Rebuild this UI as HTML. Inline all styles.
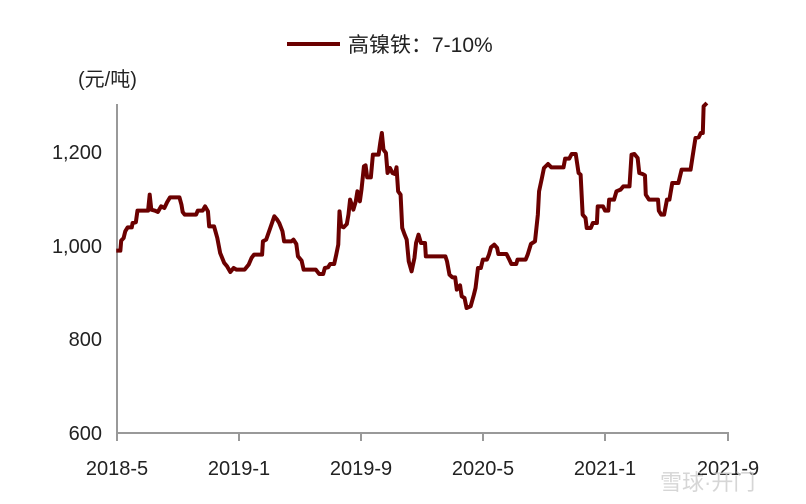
<!DOCTYPE html>
<html><head><meta charset="utf-8"><style>
body{margin:0;background:#fff;}
svg{display:block;font-family:"Liberation Sans","Noto Sans CJK SC",sans-serif;}
</style></head><body>
<svg width="806" height="504" viewBox="0 0 806 504">
<line x1="287" y1="44" x2="340" y2="44" stroke="#6b0000" stroke-width="4"/>
<text x="348" y="52" font-size="21" fill="#222">高镍铁：7-10%</text>
<text x="78" y="86" font-size="20" fill="#222">(元/吨)</text>
<g font-size="20" fill="#222" text-anchor="end">
<text x="102" y="159">1,200</text>
<text x="102" y="253">1,000</text>
<text x="102" y="346">800</text>
<text x="102" y="440">600</text>
</g>
<line x1="117" y1="104" x2="117" y2="433" stroke="#999" stroke-width="2"/>
<line x1="116" y1="433" x2="729" y2="433" stroke="#999" stroke-width="2"/>
<g stroke="#999" stroke-width="2">
<line x1="117" y1="433" x2="117" y2="441"/><line x1="239" y1="433" x2="239" y2="441"/>
<line x1="361" y1="433" x2="361" y2="441"/><line x1="483" y1="433" x2="483" y2="441"/>
<line x1="605" y1="433" x2="605" y2="441"/><line x1="728" y1="433" x2="728" y2="441"/>
</g>
<g font-size="20" fill="#222" text-anchor="middle">
<text x="117" y="475">2018-5</text><text x="239" y="475">2019-1</text>
<text x="361" y="475">2019-9</text><text x="483" y="475">2020-5</text>
<text x="605" y="475">2021-1</text><text x="728" y="475">2021-9</text>
</g>
<g transform="translate(100 88) scale(0.4073 0.3333)">
<polyline fill="none" stroke="#6b0000" stroke-width="4" vector-effect="non-scaling-stroke" stroke-linejoin="round" points="40,488 50,488 52,458 58,450 62,430 68,418 78,418 80,405 88,403 92,368 118,368 122,320 126,365 135,368 142,372 150,355 158,360 165,342 172,328 195,328 200,350 203,372 208,380 236,380 240,368 252,368 258,355 265,370 268,415 280,415 288,450 295,495 305,525 312,535 320,552 328,540 335,545 355,545 365,530 372,510 378,500 398,500 400,460 408,455 418,420 428,385 435,395 440,405 448,430 452,460 470,460 475,455 482,468 486,505 495,518 500,545 530,545 538,558 548,558 552,540 560,538 565,528 575,528 580,500 585,470 588,370 592,415 598,418 606,408 610,380 614,335 622,365 628,340 632,310 638,340 642,305 648,235 652,232 656,268 665,268 670,200 684,200 688,165 692,135 696,185 702,195 706,255 712,240 718,255 724,258 728,238 732,310 738,320 742,420 748,440 753,455 758,520 765,550 772,510 776,465 782,440 788,465 798,465 800,505 848,505 852,520 858,560 865,568 872,568 876,605 884,592 888,625 895,630 900,660 910,655 918,620 922,600 928,540 935,540 940,515 950,515 955,500 960,478 968,470 975,480 978,498 998,498 1005,515 1010,528 1022,528 1025,515 1045,515 1050,500 1058,468 1068,460 1075,380 1078,310 1085,270 1090,240 1100,228 1108,238 1138,238 1142,212 1152,212 1158,198 1168,198 1175,255 1180,260 1185,380 1192,390 1195,420 1205,420 1210,405 1220,405 1222,355 1235,355 1240,368 1248,368 1250,335 1262,335 1268,310 1278,305 1285,295 1300,295 1305,200 1312,198 1320,210 1324,255 1332,258 1338,262 1340,320 1348,335 1370,335 1372,368 1378,380 1385,380 1392,335 1398,335 1405,285 1420,285 1428,245 1450,245 1455,205 1462,150 1470,148 1475,135 1480,135 1482,55 1490,45"/>
</g>
<text x="660" y="490" font-size="22" fill="#ccc" opacity="0.8">雪球·开门</text>
</svg>
</body></html>
